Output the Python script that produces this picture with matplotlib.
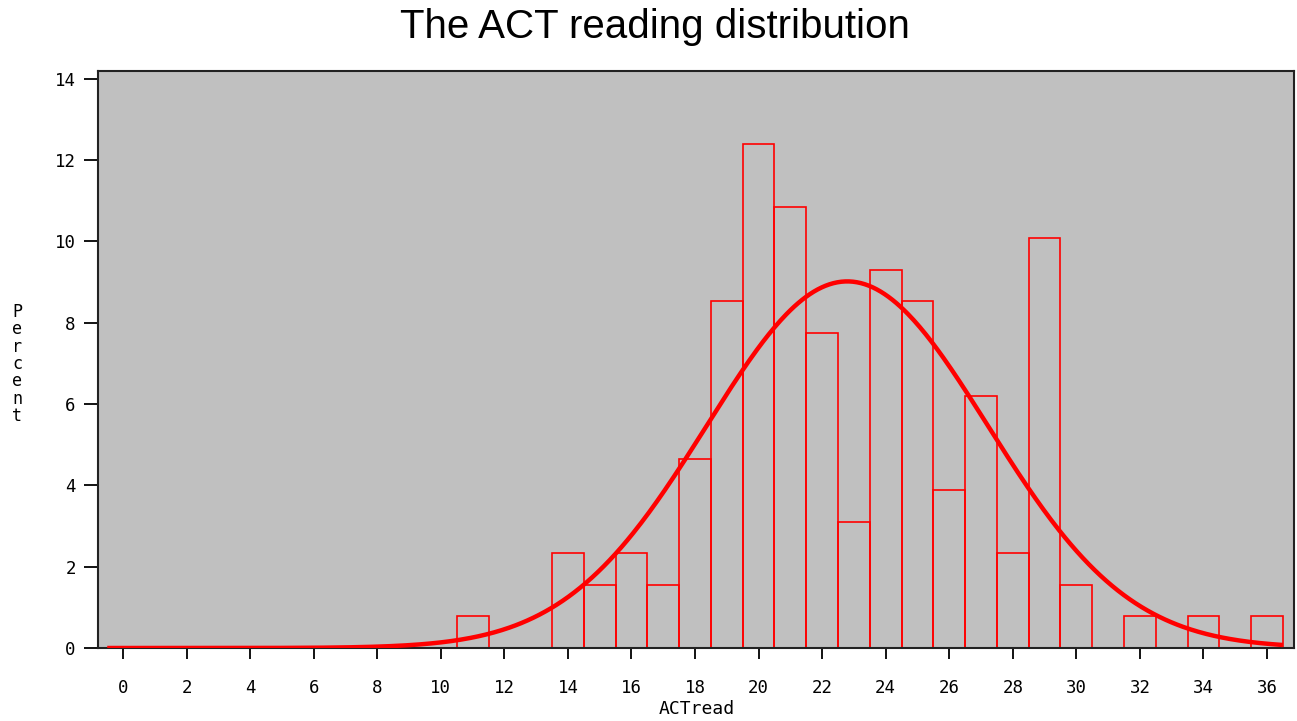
import numpy as np
import matplotlib
matplotlib.use("Agg")
import matplotlib.pyplot as plt

# ---- data (counts per integer ACT reading score, N = 129) ----
scores = [11, 14, 15, 16, 17, 18, 19, 20, 21, 22, 23, 24, 25, 26, 27, 28, 29, 30, 32, 34, 36]
counts = [1, 3, 2, 3, 2, 6, 11, 16, 14, 10, 4, 12, 11, 5, 8, 3, 13, 2, 1, 1, 1]
xticks = list(range(0, 37, 2))
yticks = list(range(0, 15, 2))

scores_a = np.array(scores, dtype=float)
counts_a = np.array(counts, dtype=float)
n = counts_a.sum()
percent = counts_a / n * 100.0

# fitted normal curve (percent per unit bin)
mu = (scores_a * counts_a).sum() / n
sd = np.sqrt((counts_a * (scores_a - mu) ** 2).sum() / (n - 1))
xc = np.linspace(-0.5, 36.5, 600)
yc = 100.0 / (sd * np.sqrt(2 * np.pi)) * np.exp(-0.5 * ((xc - mu) / sd) ** 2)

fig = plt.figure(figsize=(12.97, 7.21), dpi=100)
ax = fig.add_axes([98 / 1297, 1 - 648 / 721, (1294 - 98) / 1297, (648 - 70.7) / 721])
ax.set_facecolor("#C0C0C0")

ax.bar(scores_a, percent, width=1.0, facecolor="none", edgecolor="#FF0000", linewidth=1.2, zorder=2)
ax.plot(xc, yc, color="#FF0000", linewidth=3.2, zorder=3, solid_capstyle="butt")

ax.set_xlim(-0.79, 36.85)
ax.set_ylim(0, 14.2)
ax.set_xticks(xticks)
ax.set_yticks(yticks)

tickfont = dict(family="DejaVu Sans Mono", size=12.5)
ax.set_xticklabels([str(t) for t in xticks], **tickfont)
ax.set_yticklabels([str(t) for t in yticks], **tickfont)
ax.tick_params(axis="x", direction="out", length=8, width=1.3, pad=14, colors="black")
ax.tick_params(axis="y", direction="out", length=10, width=1.3, pad=6, colors="black")

for s in ax.spines.values():
    s.set_color("#222222")
    s.set_linewidth(1.5)

fig.text(697 / 1297, 1 - 709 / 721, "ACTread", ha="center", va="center",
         family="DejaVu Sans Mono", size=13)
fig.text(17 / 1297, 1 - 364 / 721, "P\ne\nr\nc\ne\nn\nt", ha="center", va="center",
         family="DejaVu Sans Mono", size=12, linespacing=0.95)
fig.text(655 / 1297, 1 - 27 / 721, "The ACT reading distribution", ha="center", va="center",
         family="Liberation Sans", size=29)

fig.savefig("out.png", dpi=100)
